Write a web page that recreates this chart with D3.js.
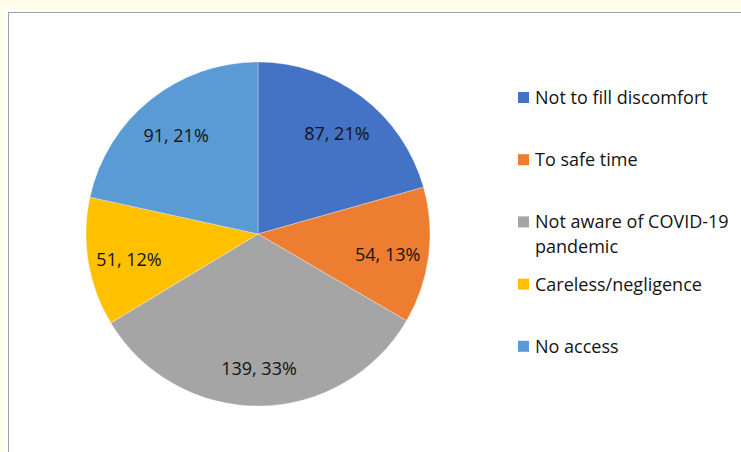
<!DOCTYPE html>
<html>
<head>
<meta charset="utf-8">
<script src="https://cdn.jsdelivr.net/npm/d3@7"></script>
<style>
  html, body { margin: 0; padding: 0; background: #fffce8; }
  svg { display: block; }
</style>
</head>
<body>
<svg id="chart" width="741" height="452"></svg>
<script>
// reasons, counts and the percent labels as printed on the chart
var categories = ["Not to fill discomfort", "To safe time", "Not aware of COVID-19 pandemic", "Careless/negligence", "No access"];
var counts = [87, 54, 139, 51, 91];
var percentLabels = ["21%", "13%", "33%", "12%", "21%"];
var colors = ["#4472c4", "#ed7d31", "#a5a5a5", "#ffc000", "#5b9bd5"];

var width = 741, height = 452;
var svg = d3.select("#chart");

// white chart area with the grey frame
svg.append("rect")
    .attr("x", 3).attr("y", 9)
    .attr("width", width).attr("height", height)
    .attr("fill", "#fff");
svg.append("rect")
    .attr("x", 8.5).attr("y", 12.5)
    .attr("width", width).attr("height", height)
    .attr("fill", "none")
    .attr("stroke", "#a0a0a0")
    .attr("stroke-width", 1);

var cx = 258, cy = 234, radius = 172;

var data = categories.map(function (c, i) {
    return { name: c, value: counts[i], pct: percentLabels[i], color: colors[i] };
});

var pie = d3.pie()
    .sort(null)
    .value(function (d) { return d.value; });

var arc = d3.arc().innerRadius(0).outerRadius(radius);
var labelArc = d3.arc().innerRadius(radius * 0.76).outerRadius(radius * 0.76);

var g = svg.append("g").attr("transform", "translate(" + cx + "," + cy + ")");

var slices = g.selectAll("g.slice")
    .data(pie(data))
    .enter().append("g")
    .attr("class", "slice");

slices.append("path")
    .attr("d", arc)
    .attr("fill", function (d) { return d.data.color; })
    .attr("stroke", "#fff")
    .attr("stroke-opacity", 0.5)
    .attr("stroke-width", 0.6);

// labels sit a little below the arc centroid, as in the original
slices.append("text")
    .attr("transform", function (d) {
        var c = labelArc.centroid(d);
        return "translate(" + c[0] + "," + (c[1] + 4) + ")";
    })
    .attr("text-anchor", "middle")
    .attr("dy", "0.35em")
    .style("font-family", "'Open Sans', sans-serif")
    .style("font-size", "18px")
    .attr("fill", "#141414")
    .text(function (d) { return d.data.value + ", " + d.data.pct; });

// legend
var legendX = 518, legendY0 = 104, legendStep = 62.2, maxTextWidth = 203;

var legend = svg.append("g").attr("class", "legend")
    .selectAll("g")
    .data(data)
    .enter().append("g")
    .attr("transform", function (d, i) {
        return "translate(" + legendX + "," + (legendY0 + i * legendStep) + ")";
    });

legend.append("rect")
    .attr("x", 0).attr("y", -12)
    .attr("width", 11).attr("height", 11)
    .attr("fill", function (d) { return d.color; });

legend.append("text")
    .attr("x", 17)
    .attr("y", 0)
    .style("font-family", "'Open Sans', sans-serif")
    .style("font-size", "18px")
    .attr("fill", "#141414")
    .each(function (d) {
        var text = d3.select(this);
        var words = d.name.split(" ");
        var line = [];
        var lineNo = 0;
        var tspan = text.append("tspan").attr("x", 17).attr("y", 0);
        words.forEach(function (w) {
            line.push(w);
            tspan.text(line.join(" "));
            if (tspan.node().getComputedTextLength() > maxTextWidth && line.length > 1) {
                line.pop();
                tspan.text(line.join(" "));
                line = [w];
                lineNo++;
                tspan = text.append("tspan").attr("x", 17).attr("y", lineNo * 24.7).text(w);
            }
        });
    });
</script>
</body>
</html>
